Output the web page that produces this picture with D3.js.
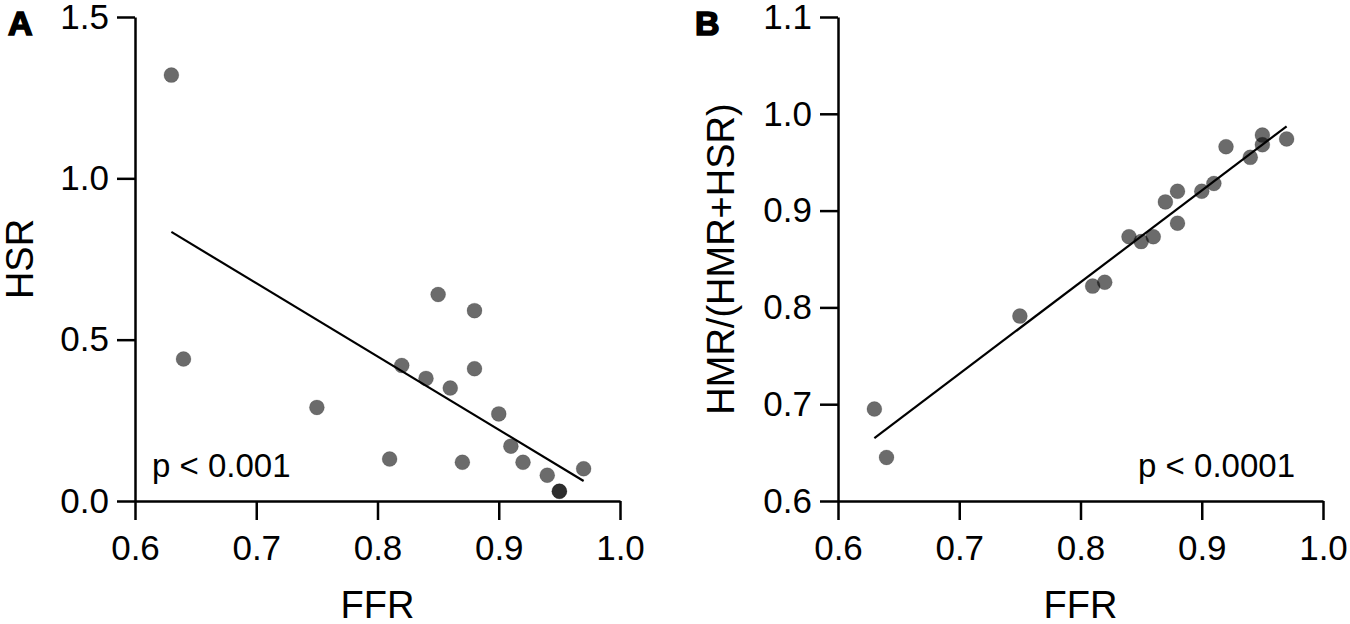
<!DOCTYPE html>
<html>
<head>
<meta charset="utf-8">
<script src="https://cdn.jsdelivr.net/npm/d3@7/dist/d3.min.js"></script>
<style>
  body { margin: 0; background: #fff; }
  svg text { font-family: "Liberation Sans", Arial, sans-serif; fill: #000; }
</style>
</head>
<body>
<div id="chartContainer"></div>
<script>
// FFR values shared by both panels (one patient per entry)
var ffr = [0.63, 0.64, 0.75, 0.81, 0.82, 0.84, 0.85, 0.86, 0.87, 0.88, 0.88, 0.90, 0.91, 0.92, 0.94, 0.95, 0.95, 0.97];
// panel A
var hsr = [1.32, 0.44, 0.29, 0.13, 0.42, 0.38, 0.64, 0.35, 0.12, 0.59, 0.41, 0.27, 0.17, 0.12, 0.08, 0.03, 0.03, 0.10];
// panel B
var hmrRatio = [0.695, 0.645, 0.791, 0.822, 0.826, 0.873, 0.868, 0.873, 0.909, 0.920, 0.887, 0.920, 0.928, 0.966, 0.955, 0.978, 0.968, 0.974];
// regression line end points [ffr, value]
var fitA = [[0.63, 0.834], [0.97, 0.062]];
var fitB = [[0.63, 0.665], [0.97, 0.987]];
var xTicks = [0.6, 0.7, 0.8, 0.9, 1.0];
var yTicksA = [0.0, 0.5, 1.0, 1.5];
var yTicksB = [0.6, 0.7, 0.8, 0.9, 1.0, 1.1];

var svg = d3.select("#chartContainer").append("svg")
    .attr("width", 1350)
    .attr("height", 624);

function drawPanel(opts) {
    var x = d3.scaleLinear().domain([0.6, 1.0]).range([opts.left, opts.left + 485]);
    var y = d3.scaleLinear().domain(opts.yDomain).range([501, 17]);
    var g = svg.append("g");

    var xAxis = d3.axisBottom(x).tickValues(xTicks).tickFormat(d3.format(".1f"))
        .tickSize(19).tickSizeOuter(0).tickPadding(15);
    var yAxis = d3.axisLeft(y).tickValues(opts.yTicks).tickFormat(d3.format(".1f"))
        .tickSize(18).tickSizeOuter(0).tickPadding(8);

    g.append("g").attr("transform", "translate(0,501)").call(xAxis);
    g.append("g").attr("transform", "translate(" + opts.left + ",0)").call(yAxis);

    g.selectAll(".domain, .tick line")
        .attr("stroke", "#000")
        .attr("stroke-width", 2.5);
    g.selectAll(".tick text")
        .style("font-size", "35px");

    // points, semi transparent so the duplicated ones look darker
    var pts = opts.xs.map(function (d, i) { return [d, opts.ys[i]]; });
    g.selectAll("circle.pt")
        .data(pts)
        .enter()
        .append("circle")
        .attr("class", "pt")
        .attr("cx", function (d) { return x(d[0]); })
        .attr("cy", function (d) { return y(d[1]); })
        .attr("r", 7.5)
        .attr("fill", "rgba(0,0,0,0.58)")
        .attr("stroke", "rgba(0,0,0,0.15)")
        .attr("stroke-width", 1);

    // fitted line
    g.append("path")
        .datum(opts.fit)
        .attr("d", d3.line().x(function (d) { return x(d[0]); }).y(function (d) { return y(d[1]); }))
        .attr("fill", "none")
        .attr("stroke", "#000")
        .attr("stroke-width", 2.2);

    // axis titles
    g.append("text")
        .attr("x", x(0.8))
        .attr("y", 618)
        .attr("text-anchor", "middle")
        .style("font-size", "38px")
        .text("FFR");
    g.append("text")
        .attr("transform", "translate(" + opts.titleX + ",259) rotate(-90)")
        .attr("text-anchor", "middle")
        .style("font-size", "38px")
        .text(opts.yTitle);

    // panel letter, heavy like the original
    g.append("text")
        .attr("x", opts.letterX)
        .attr("y", 35)
        .style("font-size", "34px")
        .style("font-weight", "bold")
        .style("stroke", "#000")
        .style("stroke-width", "1.6px")
        .text(opts.letter);

    // p value note
    g.append("text")
        .attr("x", opts.pX)
        .attr("y", 477)
        .attr("text-anchor", opts.pAnchor)
        .style("font-size", "33px")
        .text(opts.pText);
}

drawPanel({
    left: 135, yDomain: [0, 1.5], yTicks: yTicksA,
    xs: ffr, ys: hsr, fit: fitA,
    yTitle: "HSR", titleX: 33,
    letter: "A", letterX: 8,
    pText: "p < 0.001", pX: 152, pAnchor: "start"
});

drawPanel({
    left: 838, yDomain: [0.6, 1.1], yTicks: yTicksB,
    xs: ffr, ys: hmrRatio, fit: fitB,
    yTitle: "HMR/(HMR+HSR)", titleX: 734,
    letter: "B", letterX: 695,
    pText: "p < 0.0001", pX: 1295, pAnchor: "end"
});
</script>
</body>
</html>
